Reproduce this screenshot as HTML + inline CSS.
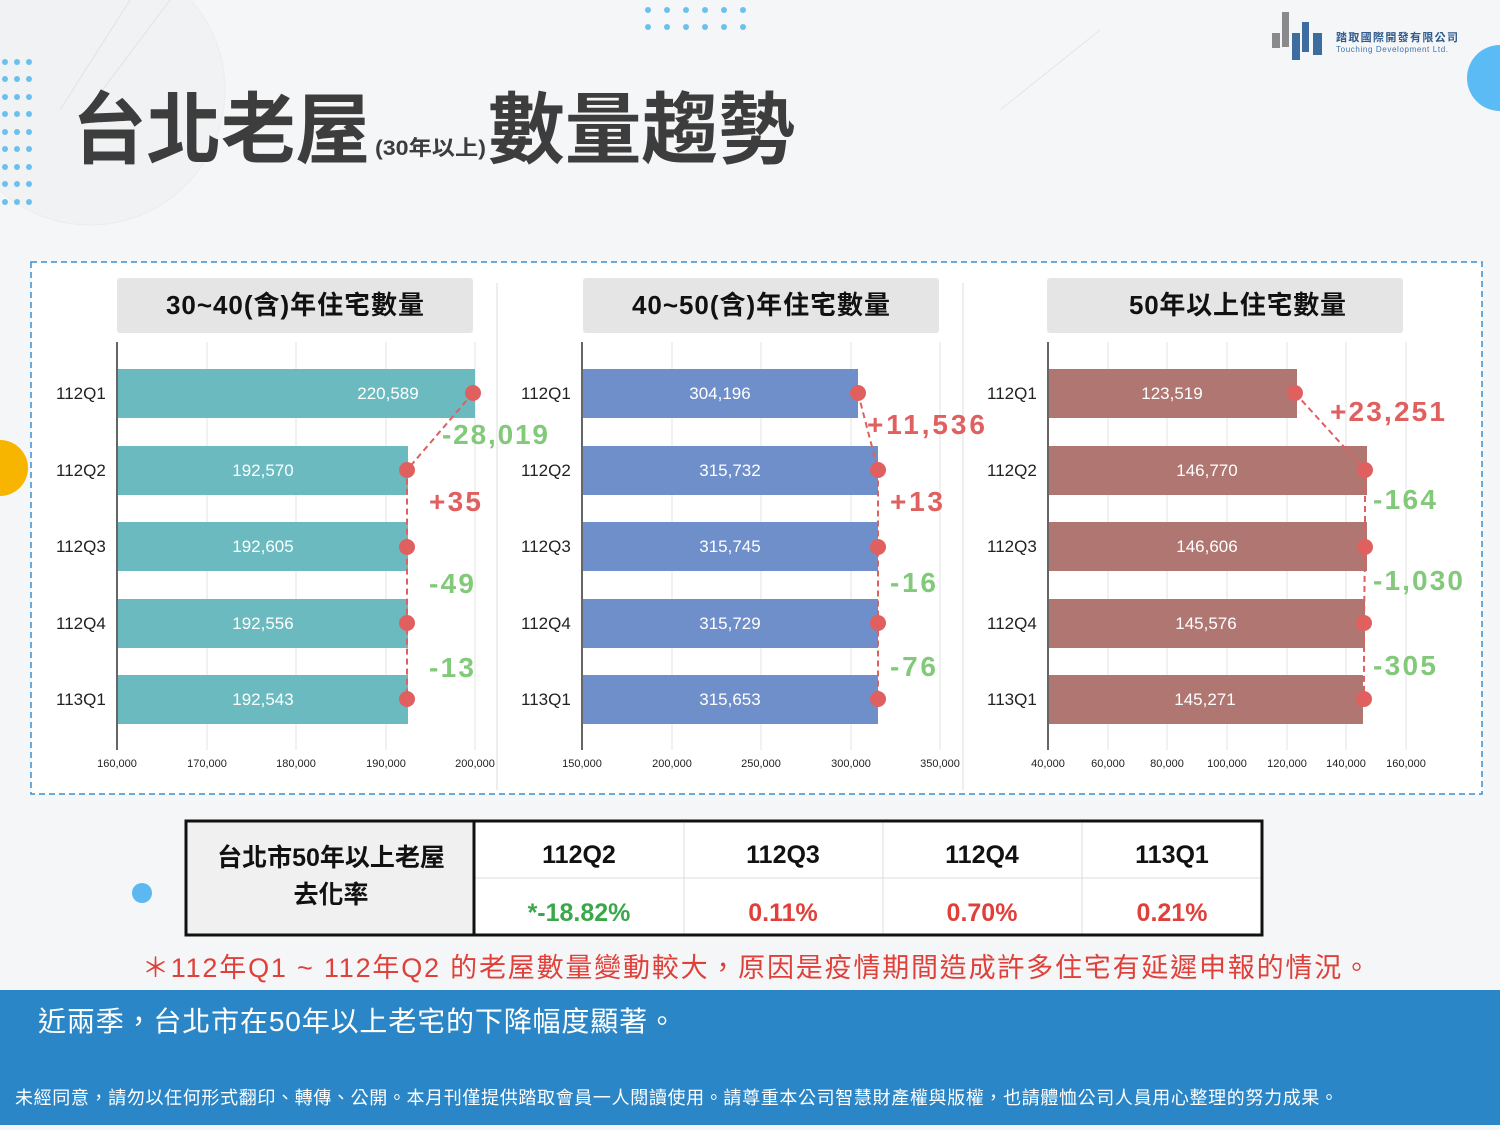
<!DOCTYPE html>
<html><head><meta charset="utf-8"><style>
html,body{margin:0;padding:0;}
body{width:1500px;height:1125px;overflow:hidden;background:#f5f6f7;font-family:"Liberation Sans","Noto Sans CJK TC",sans-serif;}
svg text{font-family:"Liberation Sans","Noto Sans CJK TC",sans-serif;}
</style></head><body>
<svg width="1500" height="1125" viewBox="0 0 1500 1125" xmlns="http://www.w3.org/2000/svg">
<rect width="1500" height="1125" fill="#f5f6f7"/>
<circle cx="90" cy="90" r="135" fill="#f1f2f3" stroke="#ececec"/>
<line x1="130" y1="0" x2="60" y2="110" stroke="#e2e2e2"/>
<line x1="170" y1="0" x2="80" y2="120" stroke="#e2e2e2"/>
<line x1="1100" y1="30" x2="1000" y2="110" stroke="#e6e6e6"/>
<g fill="#6cc0ee">
<circle cx="648" cy="10" r="3"/><circle cx="667" cy="10" r="3"/><circle cx="686" cy="10" r="3"/><circle cx="705" cy="10" r="3"/><circle cx="724" cy="10" r="3"/><circle cx="743" cy="10" r="3"/>
<circle cx="648" cy="27" r="3"/><circle cx="667" cy="27" r="3"/><circle cx="686" cy="27" r="3"/><circle cx="705" cy="27" r="3"/><circle cx="724" cy="27" r="3"/><circle cx="743" cy="27" r="3"/>
</g>
<g fill="#6cc0ee">
<circle cx="5" cy="62" r="3"/><circle cx="17" cy="62" r="3"/><circle cx="29" cy="62" r="3"/>
<circle cx="5" cy="79" r="3"/><circle cx="17" cy="79" r="3"/><circle cx="29" cy="79" r="3"/>
<circle cx="5" cy="97" r="3"/><circle cx="17" cy="97" r="3"/><circle cx="29" cy="97" r="3"/>
<circle cx="5" cy="114" r="3"/><circle cx="17" cy="114" r="3"/><circle cx="29" cy="114" r="3"/>
<circle cx="5" cy="132" r="3"/><circle cx="17" cy="132" r="3"/><circle cx="29" cy="132" r="3"/>
<circle cx="5" cy="149" r="3"/><circle cx="17" cy="149" r="3"/><circle cx="29" cy="149" r="3"/>
<circle cx="5" cy="167" r="3"/><circle cx="17" cy="167" r="3"/><circle cx="29" cy="167" r="3"/>
<circle cx="5" cy="184" r="3"/><circle cx="17" cy="184" r="3"/><circle cx="29" cy="184" r="3"/>
<circle cx="5" cy="202" r="3"/><circle cx="17" cy="202" r="3"/><circle cx="29" cy="202" r="3"/>
</g>
<circle cx="1500" cy="78" r="33" fill="#5bbcf5"/>
<circle cx="0" cy="468" r="28" fill="#f7b500"/>
<circle cx="142" cy="893" r="10" fill="#5bb8f0"/>
<g fill="#8a8a8a"><rect x="1272" y="33" width="8" height="15"/><rect x="1282" y="12" width="7" height="35"/></g>
<g fill="#3d6c9e"><rect x="1292" y="33" width="8" height="27"/><rect x="1302" y="22" width="7" height="30"/><rect x="1313" y="33" width="9" height="22"/></g>
<text x="1336" y="41" font-size="11" font-weight="bold" fill="#2e5a8c" textLength="122">踏取國際開發有限公司</text>
<text x="1336" y="52" font-size="8" fill="#3f74ad" textLength="112">Touching Development Ltd.</text>
<text x="72" y="157" font-size="78" font-weight="bold" fill="#3d3d3d" textLength="298" lengthAdjust="spacingAndGlyphs">台北老屋</text>
<text x="375" y="155" font-size="21" font-weight="bold" fill="#3d3d3d" textLength="111" lengthAdjust="spacingAndGlyphs">(30年以上)</text>
<text x="488" y="157" font-size="78" font-weight="bold" fill="#3d3d3d" textLength="307" lengthAdjust="spacingAndGlyphs">數量趨勢</text>
<rect x="31" y="262" width="1451" height="532" fill="#fff" stroke="#3b8fd0" stroke-width="1.5" stroke-dasharray="6,4"/>
<line x1="497" y1="283" x2="497" y2="790" stroke="#ddd"/>
<line x1="963" y1="283" x2="963" y2="790" stroke="#ddd"/>
<rect x="117" y="278" width="356" height="55" rx="3" fill="#e5e5e5"/>
<rect x="583" y="278" width="356" height="55" rx="3" fill="#e5e5e5"/>
<rect x="1047" y="278" width="356" height="55" rx="3" fill="#e5e5e5"/>
<g font-size="26" font-weight="bold" fill="#111">
<text x="166" y="314" textLength="258">30~40(含)年住宅數量</text>
<text x="632" y="314" textLength="258">40~50(含)年住宅數量</text>
<text x="1129" y="314" textLength="217">50年以上住宅數量</text>
</g>
<g stroke="#e3e3e3">
<line x1="207" y1="342" x2="207" y2="750"/><line x1="296" y1="342" x2="296" y2="750"/><line x1="386" y1="342" x2="386" y2="750"/><line x1="475" y1="342" x2="475" y2="750"/>
<line x1="672" y1="342" x2="672" y2="750"/><line x1="761" y1="342" x2="761" y2="750"/><line x1="851" y1="342" x2="851" y2="750"/><line x1="940" y1="342" x2="940" y2="750"/>
<line x1="1108" y1="342" x2="1108" y2="750"/><line x1="1167" y1="342" x2="1167" y2="750"/><line x1="1227" y1="342" x2="1227" y2="750"/><line x1="1287" y1="342" x2="1287" y2="750"/><line x1="1346" y1="342" x2="1346" y2="750"/><line x1="1406" y1="342" x2="1406" y2="750"/>
</g>
<g stroke="#333" stroke-width="1.5">
<line x1="117" y1="342" x2="117" y2="750"/><line x1="582" y1="342" x2="582" y2="750"/><line x1="1048" y1="342" x2="1048" y2="750"/>
</g>
<g fill="#6bbac0">
<rect x="118" y="369" width="357" height="49"/><rect x="118" y="446" width="290" height="49"/><rect x="118" y="522" width="290" height="49"/><rect x="118" y="599" width="290" height="49"/><rect x="118" y="675" width="290" height="49"/>
</g>
<g fill="#6f8fcb">
<rect x="583" y="369" width="275" height="49"/><rect x="583" y="446" width="295" height="49"/><rect x="583" y="522" width="295" height="49"/><rect x="583" y="599" width="295" height="49"/><rect x="583" y="675" width="295" height="49"/>
</g>
<g fill="#b07672">
<rect x="1049" y="369" width="248" height="49"/><rect x="1049" y="446" width="318" height="49"/><rect x="1049" y="522" width="318" height="49"/><rect x="1049" y="599" width="316" height="49"/><rect x="1049" y="675" width="314" height="49"/>
</g>
<g font-size="17" fill="#222">
<text x="56" y="399">112Q1</text><text x="56" y="476">112Q2</text><text x="56" y="552">112Q3</text><text x="56" y="629">112Q4</text><text x="56" y="705">113Q1</text>
<text x="521" y="399">112Q1</text><text x="521" y="476">112Q2</text><text x="521" y="552">112Q3</text><text x="521" y="629">112Q4</text><text x="521" y="705">113Q1</text>
<text x="987" y="399">112Q1</text><text x="987" y="476">112Q2</text><text x="987" y="552">112Q3</text><text x="987" y="629">112Q4</text><text x="987" y="705">113Q1</text>
</g>
<g font-size="17" fill="#fff" text-anchor="middle">
<text x="388" y="399">220,589</text><text x="263" y="476">192,570</text><text x="263" y="552">192,605</text><text x="263" y="629">192,556</text><text x="263" y="705">192,543</text>
<text x="720" y="399">304,196</text><text x="730" y="476">315,732</text><text x="730" y="552">315,745</text><text x="730" y="629">315,729</text><text x="730" y="705">315,653</text>
<text x="1172" y="399">123,519</text><text x="1207" y="476">146,770</text><text x="1207" y="552">146,606</text><text x="1206" y="629">145,576</text><text x="1205" y="705">145,271</text>
</g>
<g font-size="11" fill="#222" text-anchor="middle">
<text x="117" y="767">160,000</text><text x="207" y="767">170,000</text><text x="296" y="767">180,000</text><text x="386" y="767">190,000</text><text x="475" y="767">200,000</text>
<text x="582" y="767">150,000</text><text x="672" y="767">200,000</text><text x="761" y="767">250,000</text><text x="851" y="767">300,000</text><text x="940" y="767">350,000</text>
<text x="1048" y="767">40,000</text><text x="1108" y="767">60,000</text><text x="1167" y="767">80,000</text><text x="1227" y="767">100,000</text><text x="1287" y="767">120,000</text><text x="1346" y="767">140,000</text><text x="1406" y="767">160,000</text>
</g>
<g stroke="#e06060" stroke-width="2" stroke-dasharray="6,4" fill="none">
<polyline points="473,393 407,470 407,547 407,623 407,699"/>
<polyline points="858,393 878,470 878,547 878,623 878,699"/>
<polyline points="1295,393 1365,470 1365,547 1364,623 1364,699"/>
</g>
<g fill="#e06060">
<circle cx="473" cy="393" r="8"/><circle cx="407" cy="470" r="8"/><circle cx="407" cy="547" r="8"/><circle cx="407" cy="623" r="8"/><circle cx="407" cy="699" r="8"/>
<circle cx="858" cy="393" r="8"/><circle cx="878" cy="470" r="8"/><circle cx="878" cy="547" r="8"/><circle cx="878" cy="623" r="8"/><circle cx="878" cy="699" r="8"/>
<circle cx="1295" cy="393" r="8"/><circle cx="1365" cy="470" r="8"/><circle cx="1365" cy="547" r="8"/><circle cx="1364" cy="623" r="8"/><circle cx="1364" cy="699" r="8"/>
</g>
<g font-size="28" font-weight="bold">
<text x="442" y="444" fill="#82c979" textLength="106">-28,019</text>
<text x="429" y="511" fill="#e06060" textLength="52">+35</text>
<text x="429" y="593" fill="#82c979" textLength="45">-49</text>
<text x="429" y="677" fill="#82c979" textLength="45">-13</text>
<text x="867" y="434" fill="#e06060" textLength="118">+11,536</text>
<text x="890" y="511" fill="#e06060" textLength="53">+13</text>
<text x="890" y="592" fill="#82c979" textLength="46">-16</text>
<text x="890" y="676" fill="#82c979" textLength="46">-76</text>
<text x="1330" y="421" fill="#e06060" textLength="115">+23,251</text>
<text x="1373" y="509" fill="#82c979" textLength="63">-164</text>
<text x="1373" y="590" fill="#82c979" textLength="90">-1,030</text>
<text x="1373" y="675" fill="#82c979" textLength="63">-305</text>
</g>
<rect x="186" y="821" width="1076" height="114" fill="#fff"/>
<rect x="186" y="821" width="288" height="114" fill="#f0f0f0"/>
<g stroke="#ddd"><line x1="474" y1="878" x2="1262" y2="878"/><line x1="684" y1="823" x2="684" y2="935"/><line x1="883" y1="823" x2="883" y2="935"/><line x1="1082" y1="823" x2="1082" y2="935"/></g>
<line x1="474" y1="821" x2="474" y2="935" stroke="#111" stroke-width="3"/>
<rect x="186" y="821" width="1076" height="114" fill="none" stroke="#111" stroke-width="3"/>
<g font-size="25" font-weight="bold" fill="#111" text-anchor="middle">
<text x="331" y="866">台北市50年以上老屋</text><text x="331" y="903">去化率</text>
<text x="579" y="863">112Q2</text><text x="783" y="863">112Q3</text><text x="982" y="863">112Q4</text><text x="1172" y="863">113Q1</text>
<text x="579" y="921" fill="#3aa84a">*-18.82%</text><text x="783" y="921" fill="#e0403a">0.11%</text><text x="982" y="921" fill="#e0403a">0.70%</text><text x="1172" y="921" fill="#e0403a">0.21%</text>
</g>
<text x="142" y="977" font-size="27" fill="#e0403a" textLength="1228">＊112年Q1 ~ 112年Q2 的老屋數量變動較大，原因是疫情期間造成許多住宅有延遲申報的情況。</text>
<rect x="0" y="990" width="1500" height="135" fill="#2a86c6"/>
<text x="38" y="1031" font-size="28" fill="#fff" textLength="638">近兩季，台北市在50年以上老宅的下降幅度顯著。</text>
<text x="15" y="1104" font-size="18" fill="#fff" textLength="1323">未經同意，請勿以任何形式翻印、轉傳、公開。本月刊僅提供踏取會員一人閱讀使用。請尊重本公司智慧財產權與版權，也請體恤公司人員用心整理的努力成果。</text>
</svg>
</body></html>
